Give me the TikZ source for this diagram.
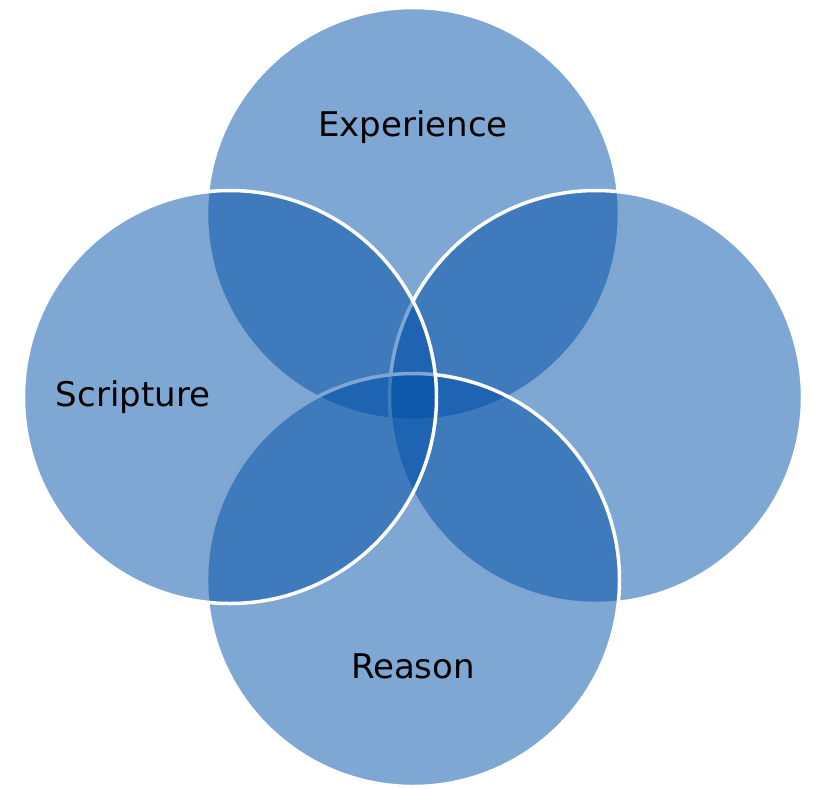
\documentclass[tikz,border=0pt]{standalone}
\usepackage{fontspec}
\setmainfont{DejaVu Sans}
\usepackage{tikz}
\usepackage{xcolor}
\definecolor{vennblue}{RGB}{0,79,167}

\begin{document}
\begin{tikzpicture}[x=1pt,y=-1pt,
	venn/.style={fill=vennblue,fill opacity=0.5,draw=white,draw opacity=1,line width=3.5pt},
	lbl/.style={font=\fontsize{34}{40}\selectfont,text=black}]
						\useasboundingbox (0,0) rectangle (813,788);
						% four circles, drawn in order top, right, bottom, left
						\path[venn] (413,214) circle (206.5);
						\path[venn] (596,397) circle (206.5);
						\path[venn] (413,580) circle (206.5);
						\path[venn] (230,397) circle (206.5);
						\node[lbl] (experience) at (413,127) {Experience};
						\node[lbl] (scripture) at (133,397) {Scripture};
						\node[lbl] (reason) at (413,666) {Reason};
					\end{tikzpicture}
\end{document}
